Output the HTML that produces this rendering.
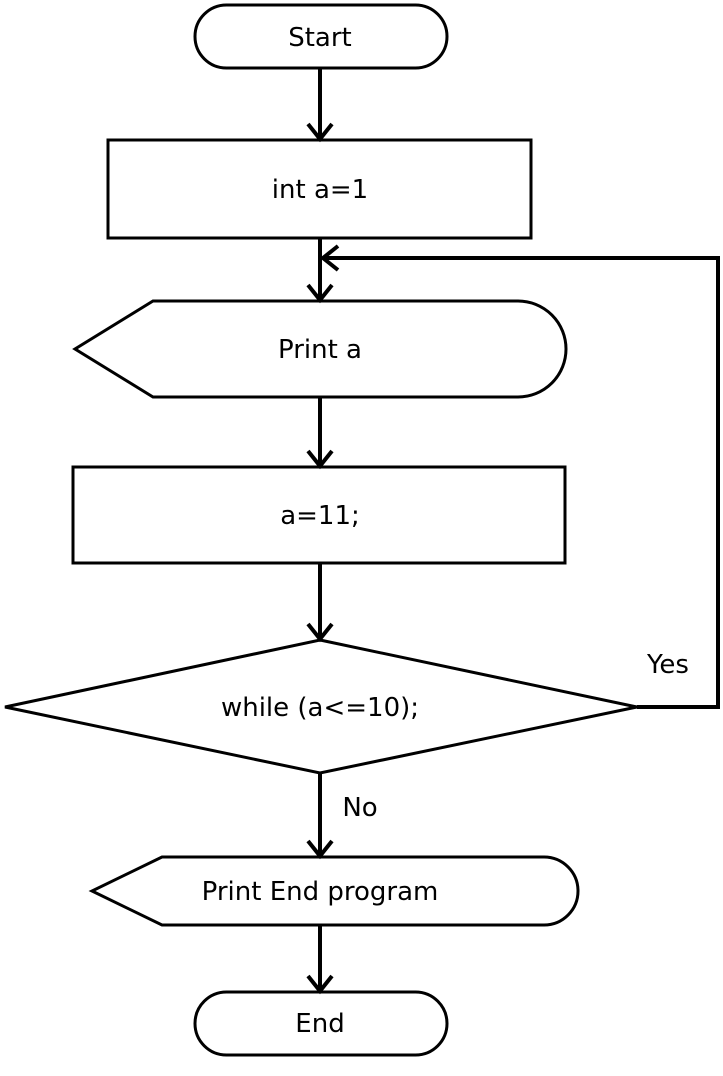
<!DOCTYPE html>
<html><head><style>body{margin:0;background:#fff}svg{display:block}</style></head>
<body>
<svg width="723" height="1076" viewBox="0 0 723 1076" xmlns="http://www.w3.org/2000/svg">
<g fill="none" stroke="#000" stroke-width="3">
<rect x="195" y="5" width="252" height="63" rx="31.5"/>
<rect x="108" y="140" width="423" height="98"/>
<path d="M153,301 L518,301 A48,48 0 0 1 518,397 L153,397 L75,349 Z"/>
<rect x="73" y="467" width="492" height="96"/>
<path d="M320,640 L637,707 L320,773 L5,707 Z"/>
<path d="M162,857 L544,857 A34,34 0 0 1 544,925 L162,925 L92,891 Z"/>
<rect x="195" y="992" width="252" height="63" rx="31.5"/>
</g>
<g fill="none" stroke="#000" stroke-width="4">
<path d="M320,68 V138 M308,124 L320,139 L332,124"/>
<path d="M320,238 V299 M308,285 L320,300 L332,285"/>
<path d="M320,397 V465 M308,451 L320,466 L332,451"/>
<path d="M320,563 V638 M308,624 L320,639 L332,624"/>
<path d="M320,773 V855 M308,841 L320,856 L332,841"/>
<path d="M320,925 V990 M308,976 L320,991 L332,976"/>
<path d="M637,707 H718 V258 H324 M338,246 L323,258 L338,270"/>
</g>
<g font-family="DejaVu Sans, sans-serif" font-size="26" text-anchor="middle" fill="#000">
<text x="320" y="46">Start</text>
<text x="320" y="198">int a=1</text>
<text x="320" y="358">Print a</text>
<text x="320" y="524">a=11;</text>
<text x="320" y="716">while (a&lt;=10);</text>
<text x="320" y="900">Print End program</text>
<text x="320" y="1032">End</text>
<text x="668" y="673">Yes</text>
<text x="360" y="816">No</text>
</g>
</svg>
</body></html>
